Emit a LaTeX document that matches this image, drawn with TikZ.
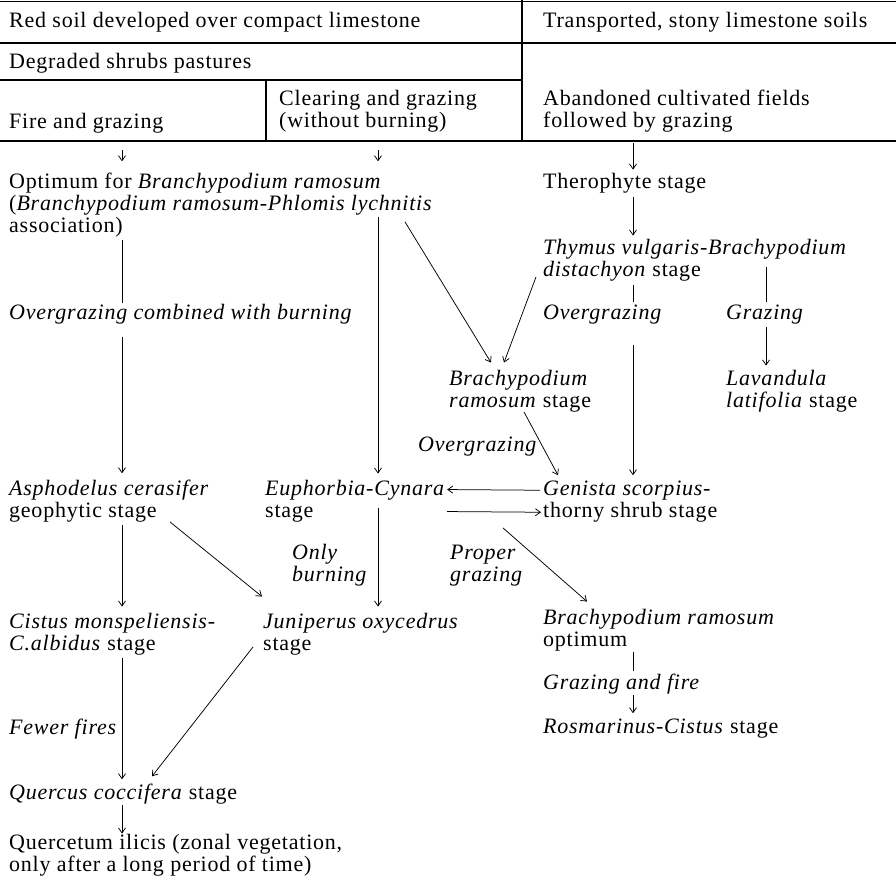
\documentclass[tikz,border=0pt]{standalone}
\usepackage{fontspec}
\setmainfont[LetterSpace=3.5]{Liberation Serif}
\usetikzlibrary{arrows.meta,calc}

\begin{document}
\begin{tikzpicture}[x=1pt,y=-1pt,
  txt/.style={anchor=base west,inner sep=0pt,align=left,font=\fontsize{22}{22}\selectfont},
  rule/.style={line width=1.1pt},
  link/.style={line width=0.75pt},
  arr/.style={link,-{Straight Barb[length=5pt,width=7pt]}},
]
\useasboundingbox (0,0) rectangle (896,884);

% ---- header table ----
\draw[rule] (0,1.5) -- (896,1.5);
\draw[rule] (0,43) -- (896,43);
\draw[rule] (0,80) -- (522,80);
\draw[rule] (0,141) -- (896,141);
\draw[rule] (522,0) -- (522,141);
\draw[rule] (266,80) -- (266,141);

% multi-line texts are placed by the baseline of their last line
\node[txt] (h1) at (9,27) {Red soil developed over compact limestone};
\node[txt] (h2) at (543,27) {Transported, stony limestone soils};
\node[txt] (h3) at (9,68) {Degraded shrubs pastures};
\node[txt] (h4) at (9,128) {Fire and grazing};
\node[txt] (h5) at (279,127) {Clearing and grazing\\(without burning)};
\node[txt] (h6) at (543,127) {Abandoned cultivated fields\\followed by grazing};

% ---- column positions ----
\coordinate (cA) at (122,0);
\coordinate (cB) at (378,0);
\coordinate (cC) at (633,0);
\coordinate (cD) at (766,0);

% ---- stages and labels ----
\node[txt] (opt) at (9,232) {Optimum for \textit{Branchypodium ramosum}\\(\textit{Branchypodium ramosum-Phlomis lychnitis}\\association)};
\node[txt] (ther) at (543,188) {Therophyte stage};
\node[txt] (thy) at (543,276) {\textit{Thymus vulgaris-Brachypodium}\\\textit{distachyon} stage};
\node[txt] (lblA) at (9,319) {\textit{Overgrazing combined with burning}};
\node[txt] (lblC) at (543,319) {\textit{Overgrazing}};
\node[txt] (lblD) at (726,319) {\textit{Grazing}};
\node[txt] (brs) at (449,407) {\textit{Brachypodium}\\\textit{ramosum} stage};
\node[txt] (lav) at (726,407) {\textit{Lavandula}\\\textit{latifolia} stage};
\node[txt] (lblG) at (418,451) {\textit{Overgrazing}};
\node[txt] (asph) at (9,517) {\textit{Asphodelus cerasifer}\\geophytic stage};
\node[txt] (euph) at (265,517) {\textit{Euphorbia-Cynara}\\stage};
\node[txt] (gen) at (543,517) {\textit{Genista scorpius-}\\thorny shrub stage};
\node[txt] (lblB) at (292,581) {\textit{Only}\\\textit{burning}};
\node[txt] (lblP) at (450,581) {\textit{Proper}\\\textit{grazing}};
\node[txt] (bro) at (543,646) {\textit{Brachypodium ramosum}\\optimum};
\node[txt] (cist) at (9,650) {\textit{Cistus monspeliensis-}\\\textit{C.albidus} stage};
\node[txt] (jun) at (263,650) {\textit{Juniperus oxycedrus}\\stage};
\node[txt] (lblE) at (543,689) {\textit{Grazing and fire}};
\node[txt] (ros) at (543,733) {\textit{Rosmarinus-Cistus} stage};
\node[txt] (lblF) at (9,734) {\textit{Fewer fires}};
\node[txt] (quer) at (9,799) {\textit{Quercus coccifera} stage};
\node[txt] (qil) at (9,871) {Quercetum ilicis (zonal vegetation,\\only after a long period of time)};

% ---- connectors: header to first stages ----
\draw[arr, shorten <=17pt, shorten >=11pt] (h4.south -| cA) -- (opt.north -| cA);
\draw[arr, shorten <=18pt, shorten >=11pt] (h5.south -| cB) -- (opt.north -| cB);
\draw[arr, shorten <=11pt, shorten >=3pt] (h6.south -| cC) -- (ther.north -| cC);

% ---- left column ----
\draw[link, shorten <=3pt, shorten >=1pt] (opt.south -| cA) -- (lblA.north -| cA);
\draw[arr, shorten <=13pt, shorten >=6pt] (lblA.south -| cA) -- (asph.north -| cA);
\draw[arr, shorten <=3pt, shorten >=6pt] (asph.south -| cA) -- (cist.north -| cA);
\draw[arr, shorten <=3pt, shorten >=4pt] (cist.south -| cA) -- (quer.north -| cA);
\draw[arr, shorten <=1pt] (quer.south -| cA) -- (qil.north -| cA);

% ---- middle column ----
\draw[arr, shorten >=6pt] ($(opt.south -| cB)+(0,-20)$) -- (euph.north -| cB);
\draw[arr, shorten >=6pt] ($(euph.south -| cB)+(0,-14)$) -- (jun.north -| cB);
\draw[arr] ($(opt.south west)+(396,-15)$) -- ($(brs.north west)+(42,-7)$);
\draw[arr] ($(asph.south west)+(161,0)$) -- ($(jun.north west)+(-1,-16)$);
\draw[arr] ($(jun.south west)+(-10,-8)$) -- ($(quer.north west)+(143,-7)$);

% ---- right columns ----
\draw[arr, shorten <=4pt, shorten >=3pt] (ther.south -| cC) -- (thy.north -| cC);
\draw[link, shorten <=4pt, shorten >=2pt] (thy.south -| cC) -- (lblC.north -| cC);
\draw[arr, shorten <=21pt, shorten >=5pt] (lblC.south -| cC) -- (gen.north -| cC);
\draw[link, shorten >=2pt] ($(thy.south -| cD)+(0,-14)$) -- (lblD.north -| cD);
\draw[arr, shorten <=3pt, shorten >=4pt] (lblD.south -| cD) -- (lav.north -| cD);
\draw[arr] ($(thy.south west)+(-7,-4)$) -- ($(brs.north west)+(55,-7)$);
\draw[arr] ($(brs.south west)+(75,0)$) -- ($(gen.north west)+(15,-5)$);
\draw[arr] ($(gen.north west)+(-3,10)$) -- ($(euph.north east)+(2,10)$);
\draw[arr] ($(euph.north east)+(2,32)$) -- ($(gen.north west)+(-2,32)$);
\draw[arr] ($(euph.south west)+(238,6)$) -- ($(bro.north west)+(44,-7)$);
\draw[link, shorten <=1pt, shorten >=2pt] (bro.south -| cC) -- (lblE.north -| cC);
\draw[arr, shorten <=1pt, shorten >=5pt] (lblE.south -| cC) -- (ros.north -| cC);

\end{tikzpicture}
\end{document}
